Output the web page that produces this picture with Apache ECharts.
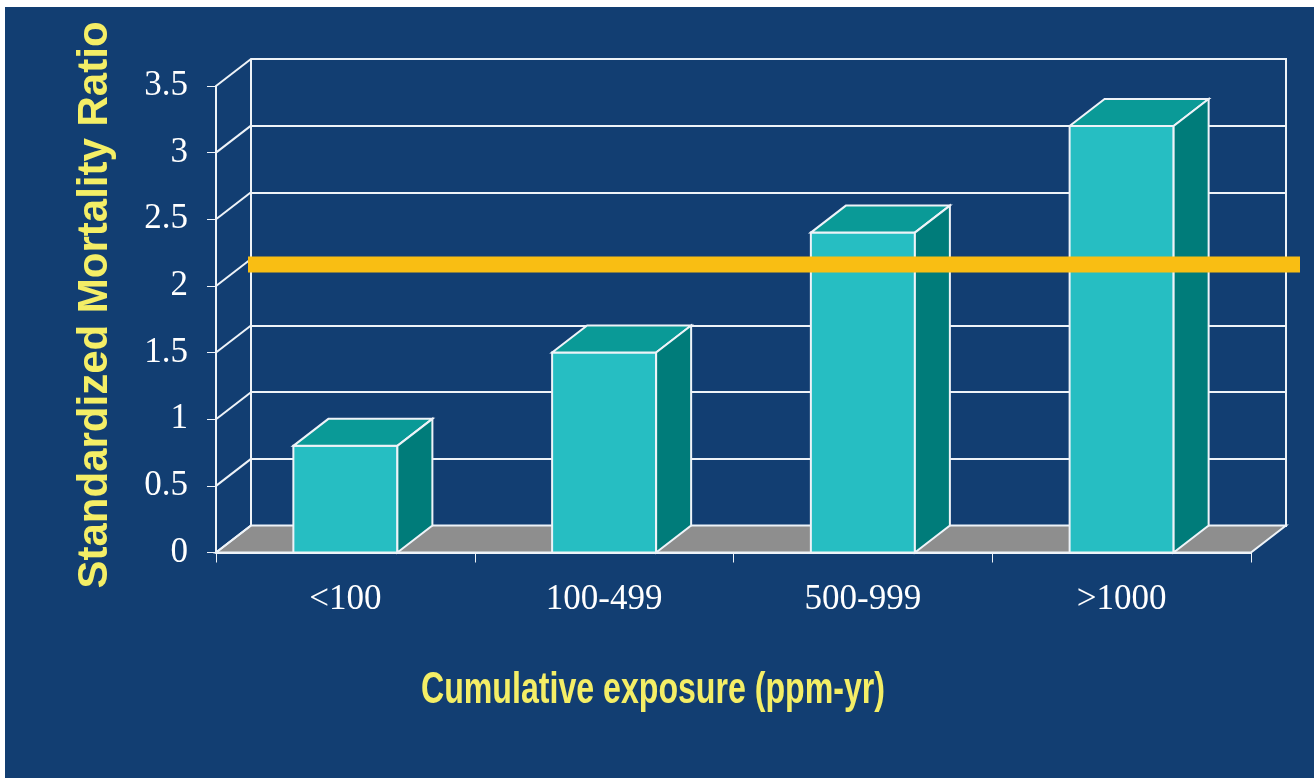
<!DOCTYPE html>
<html lang="en">
<head>
    <meta charset="UTF-8">
    <title>SMR by cumulative exposure</title>
    <script src="https://cdn.jsdelivr.net/npm/echarts@6/dist/echarts.min.js"></script>
    <style>
        body { margin: 0; background: #ffffff; }
        #main { position: absolute; left: 5px; top: 7px; width: 1309px; height: 771px; }
    </style>
</head>
<body>
<div id="main"></div>
<script type="text/javascript">
    // data
    var categories = ['<100', '100-499', '500-999', '>1000'];
    var smrValues = [0.8, 1.5, 2.4, 3.2];
    var yMin = 0, yMax = 3.5, yStep = 0.5;
    var refLineValue = 2.16;   // the orange reference line

    // 3d look: depth offset of the back wall, in pixels
    var DX = 35, DY = -27;
    var BAR_RATIO = 0.402;

    var WHITE = '#EEF3F8';
    var YELLOW = '#F4EE66';

    function yTickValues() {
        var out = [];
        for (var v = yMin; v <= yMax + 1e-9; v += yStep) out.push(v);
        return out;
    }

    // floor, diagonal tick lines, back wall edges
    function renderFrame(params, api) {
        var cs = params.coordSys;
        var gx = cs.x, gy = cs.y, gw = cs.width, gh = cs.height;
        var bottom = gy + gh;
        var children = [{
            type: 'polygon',
            shape: { points: [[gx, bottom], [gx + gw, bottom], [gx + gw + DX, bottom + DY], [gx + DX, bottom + DY]] },
            style: { fill: '#8E8E8E', stroke: WHITE, lineWidth: 2 }
        }];
        yTickValues().forEach(function (v) {
            var y = api.coord([0, v])[1];
            children.push({
                type: 'line',
                shape: { x1: gx, y1: y, x2: gx + DX, y2: y + DY },
                style: { stroke: WHITE, lineWidth: 2 }
            });
        });
        var topY = api.coord([0, yMax])[1];
        children.push({
            type: 'line',
            shape: { x1: gx + gw + DX, y1: bottom + DY, x2: gx + gw + DX, y2: topY + DY },
            style: { stroke: WHITE, lineWidth: 2 }
        });
        return { type: 'group', children: children };
    }

    function renderBar(params, api) {
        var i = api.value(0), v = api.value(1);
        var top = api.coord([i, v]);
        var base = api.coord([i, 0]);
        var w = api.size([1, 0])[0] * BAR_RATIO;
        var x0 = top[0] - w / 2, x1 = top[0] + w / 2;
        var t = top[1], b = base[1];
        return {
            type: 'group',
            children: [{
                type: 'rect',
                shape: { x: x0, y: t, width: w, height: b - t },
                style: { fill: '#26BEC2', stroke: WHITE, lineWidth: 2 }
            }, {
                type: 'polygon',
                shape: { points: [[x0, t], [x1, t], [x1 + DX, t + DY], [x0 + DX, t + DY]] },
                style: { fill: '#0A9A97', stroke: WHITE, lineWidth: 2 }
            }, {
                type: 'polygon',
                shape: { points: [[x1, t], [x1 + DX, t + DY], [x1 + DX, b + DY], [x1, b]] },
                style: { fill: '#007C7A', stroke: WHITE, lineWidth: 2 }
            }]
        };
    }

    function renderRefLine(params, api) {
        var cs = params.coordSys;
        var y = api.coord([0, api.value(1)])[1];
        return {
            type: 'line',
            shape: { x1: cs.x + DX - 3, y1: y, x2: cs.x + cs.width + DX + 14, y2: y },
            style: { stroke: '#F9BE13', lineWidth: 16 }
        };
    }

    var option = {
        backgroundColor: '#123E72',
        animation: false,
        grid: [
            // front plane
            { left: 211, right: 63, top: 79, bottom: 225.5 },
            // back wall
            { left: 246, right: 27, top: 52, bottom: 252.5 }
        ],
        xAxis: [{
            gridIndex: 0,
            type: 'category',
            data: categories,
            boundaryGap: true,
            axisLine: { show: true, lineStyle: { color: WHITE, width: 2 } },
            axisTick: { show: true, length: 10, alignWithLabel: false, lineStyle: { color: WHITE, width: 1 } },
            axisLabel: {
                color: '#ffffff',
                fontFamily: 'Liberation Serif',
                fontSize: 35,
                margin: 30
            },
            splitLine: { show: false }
        }, {
            gridIndex: 1,
            type: 'category',
            data: categories,
            show: false
        }],
        yAxis: [{
            gridIndex: 0,
            type: 'value',
            min: yMin,
            max: yMax,
            interval: yStep,
            axisLine: { show: true, lineStyle: { color: WHITE, width: 2 } },
            axisTick: { show: true, length: 9, lineStyle: { color: WHITE, width: 1 } },
            axisLabel: {
                color: '#ffffff',
                fontFamily: 'Liberation Serif',
                fontSize: 35,
                margin: 28
            },
            splitLine: { show: false }
        }, {
            gridIndex: 1,
            type: 'value',
            min: yMin,
            max: yMax,
            interval: yStep,
            axisLine: { show: true, lineStyle: { color: WHITE, width: 2 } },
            axisTick: { show: false },
            axisLabel: { show: false },
            splitLine: { show: true, lineStyle: { color: WHITE, width: 2 } }
        }],
        graphic: [{
            type: 'text',
            x: 90,
            y: 298,
            rotation: Math.PI / 2,
            style: {
                text: 'Standardized Mortality Ratio',
                fill: YELLOW,
                font: 'bold 42px "Liberation Sans", Arial, sans-serif',
                align: 'center',
                verticalAlign: 'middle'
            }
        }, {
            type: 'text',
            x: 648,
            y: 684,
            scaleX: 0.73,
            style: {
                text: 'Cumulative exposure (ppm-yr)',
                fill: YELLOW,
                font: 'bold 44px "Liberation Sans", Arial, sans-serif',
                align: 'center',
                verticalAlign: 'middle'
            }
        }],
        series: [{
            name: 'frame',
            type: 'custom',
            xAxisIndex: 0,
            yAxisIndex: 0,
            z: 1,
            silent: true,
            renderItem: renderFrame,
            data: [[0, 0]]
        }, {
            name: 'SMR',
            type: 'custom',
            xAxisIndex: 0,
            yAxisIndex: 0,
            z: 3,
            renderItem: renderBar,
            data: smrValues.map(function (v, i) { return [i, v]; })
        }, {
            name: 'reference',
            type: 'custom',
            xAxisIndex: 0,
            yAxisIndex: 0,
            z: 5,
            silent: true,
            renderItem: renderRefLine,
            data: [[0, refLineValue]]
        }]
    };

    var myChart = echarts.init(document.getElementById('main'));
    myChart.setOption(option);
</script>
</body>
</html>
